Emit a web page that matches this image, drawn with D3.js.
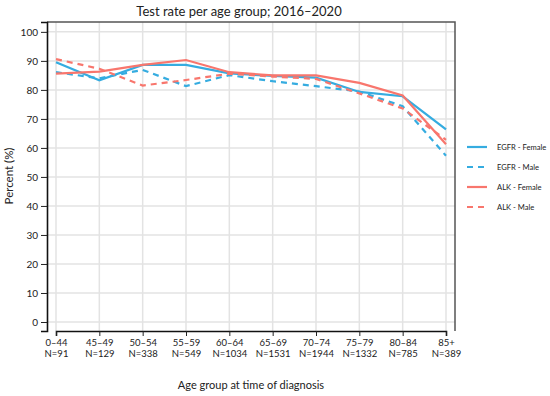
<!DOCTYPE html>
<html>
<head>
<meta charset="utf-8">
<script src="https://cdn.jsdelivr.net/npm/d3@7"></script>
<style>
  body { margin: 0; background: #fff; }
  text { font-family: Lato, "Open Sans", sans-serif; fill: #222; }
</style>
</head>
<body>
<div id="chart"></div>
<script>
// age groups and case counts
var ageGroups = ["0–44", "45–49", "50–54", "55–59", "60–64", "65–69", "70–74", "75–79", "80–84", "85+"];
var counts = [91, 129, 338, 549, 1034, 1531, 1944, 1332, 785, 389];

// test rate (%) per series
var egfrFemale = [89.5, 83.3, 88.6, 88.6, 85.7, 84.8, 84.2, 79.3, 77.8, 66.4];
var egfrMale = [86.1, 84.0, 86.9, 81.3, 85.1, 83.0, 81.3, 79.4, 74.4, 57.3];
var alkFemale = [85.6, 86.3, 88.6, 90.3, 86.1, 85.0, 85.0, 82.4, 78.1, 61.3];
var alkMale = [90.6, 87.3, 81.5, 83.4, 85.6, 84.6, 83.8, 78.8, 73.6, 62.8];

var seriesNames = ["EGFR - Female", "EGFR - Male", "ALK - Female", "ALK - Male"];
var yTicks = [0, 10, 20, 30, 40, 50, 60, 70, 80, 90, 100];

var blue = "#35ace0", red = "#f8766d";
var series = [
  { name: seriesNames[0], values: egfrFemale, color: blue, dash: null },
  { name: seriesNames[1], values: egfrMale, color: blue, dash: "6,5" },
  { name: seriesNames[2], values: alkFemale, color: red, dash: null },
  { name: seriesNames[3], values: alkMale, color: red, dash: "6,5" }
];

var width = 550, height = 396;
var plotLeft = 47, plotRight = 455, plotTop = 22, plotBottom = 331;

var svg = d3.select("#chart").append("svg")
  .attr("width", width)
  .attr("height", height);

var x = d3.scalePoint().domain(ageGroups).range([plotLeft + 9, plotRight - 9]);
var y = d3.scaleLinear().domain([-3.1, 103.4]).range([plotBottom, plotTop]);

// grid
svg.append("g").selectAll("line").data(yTicks).enter().append("line")
  .attr("x1", plotLeft).attr("x2", plotRight)
  .attr("y1", function (d) { return y(d); })
  .attr("y2", function (d) { return y(d); })
  .attr("stroke", "#e3e3e3").attr("stroke-width", 1.5);
svg.append("g").selectAll("line").data(ageGroups).enter().append("line")
  .attr("x1", function (d) { return x(d); })
  .attr("x2", function (d) { return x(d); })
  .attr("y1", plotTop).attr("y2", plotBottom)
  .attr("stroke", "#e3e3e3").attr("stroke-width", 1.5);

// frame (top/right)
svg.append("path")
  .attr("d", "M" + plotLeft + "," + plotTop + "H" + plotRight + "V" + plotBottom)
  .attr("fill", "none").attr("stroke", "#555").attr("stroke-width", 1.5);

// axes
var yAxis = svg.append("g")
  .attr("transform", "translate(" + plotLeft + ",0)")
  .call(d3.axisLeft(y).tickValues(yTicks).tickSize(6).tickPadding(3));
var xAxis = svg.append("g")
  .attr("transform", "translate(0," + plotBottom + ")")
  .call(d3.axisBottom(x).tickSize(5).tickFormat(""));

[yAxis, xAxis].forEach(function (a) {
  a.select(".domain").attr("stroke", "#111").attr("stroke-width", 1.6);
  a.selectAll(".tick line").attr("stroke", "#222").attr("stroke-width", 1);
});
yAxis.selectAll(".tick text")
  .style("font-size", "10px").attr("fill", "#333")
  .style("font-family", "Lato, sans-serif");

// two-line x tick labels
xAxis.selectAll(".tick").each(function (d, i) {
  var t = d3.select(this).append("text")
    .attr("text-anchor", "middle")
    .style("font-size", "9.5px")
    .attr("fill", "#333");
  t.append("tspan").attr("x", 0).attr("y", 15).text(d);
  t.append("tspan").attr("x", 0).attr("y", 26).text("N=" + counts[i]);
});

// lines
var line = d3.line()
  .x(function (d, i) { return x(ageGroups[i]); })
  .y(function (d) { return y(d); });

svg.append("g").selectAll("path").data(series).enter().append("path")
  .attr("d", function (d) { return line(d.values); })
  .attr("fill", "none")
  .attr("stroke", function (d) { return d.color; })
  .attr("stroke-width", 2.2)
  .attr("stroke-dasharray", function (d) { return d.dash; });

// legend
var legend = svg.append("g").selectAll("g").data(series).enter().append("g")
  .attr("transform", function (d, i) { return "translate(467," + (147 + i * 20) + ")"; });
legend.append("line")
  .attr("x1", 0).attr("x2", 20)
  .attr("stroke", function (d) { return d.color; })
  .attr("stroke-width", 2.2)
  .attr("stroke-dasharray", function (d) { return d.dash; });
legend.append("text")
  .attr("x", 30).attr("dy", "0.35em")
  .style("font-size", "7.6px")
  .text(function (d) { return d.name; });

// titles
svg.append("text")
  .attr("x", 239).attr("y", 16)
  .attr("text-anchor", "middle")
  .style("font-size", "13px")
  .text("Test rate per age group; 2016–2020");

svg.append("text")
  .attr("x", 251).attr("y", 389)
  .attr("text-anchor", "middle")
  .style("font-size", "11px")
  .text("Age group at time of diagnosis");

svg.append("text")
  .attr("transform", "translate(13,176) rotate(-90)")
  .attr("text-anchor", "middle")
  .style("font-size", "11.5px")
  .text("Percent (%)");
</script>
</body>
</html>
